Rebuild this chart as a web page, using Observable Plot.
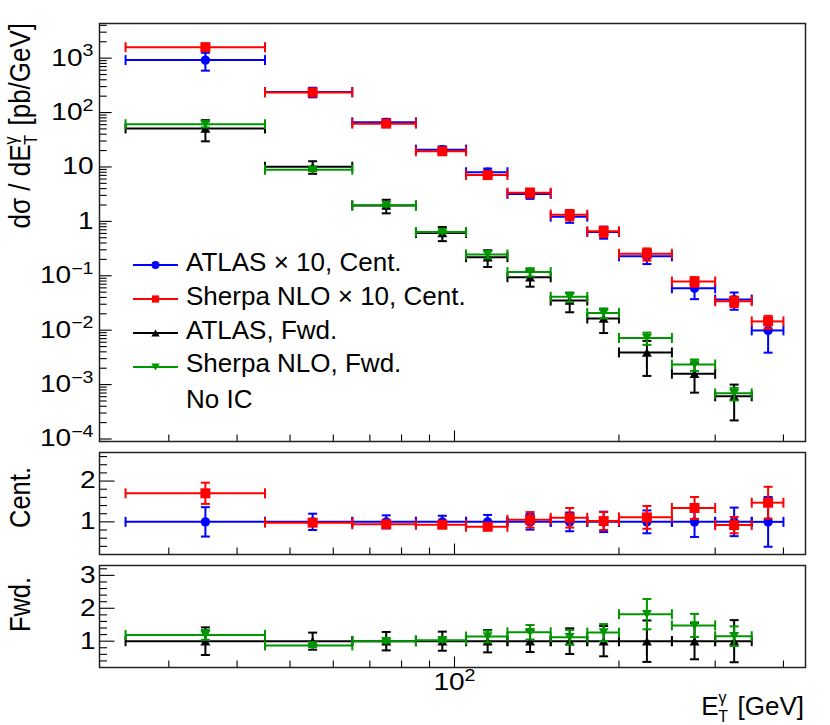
<!DOCTYPE html>
<html><head><meta charset="utf-8">
<script src="https://cdn.jsdelivr.net/npm/d3@7"></script>
<script src="https://cdn.jsdelivr.net/npm/@observablehq/plot@0.6"></script>
<style>
body{margin:0;background:#fff;}
#chart{position:relative;width:830px;height:725px;font-family:"Liberation Sans",Arial,Helvetica,sans-serif;}
#chart svg{position:absolute;left:0;overflow:visible;}
</style></head><body><div id="chart"></div>
<script>
// ---- data ----
const binLo = [25,45,65,85,105,125,150,175,200,250,300,350];
const binHi = [45,65,85,105,125,150,175,200,250,300,350,400];
const atlasCent    = [920,238,66,20.8,8.0,3.2,1.22,0.64,0.228,0.059,0.0365,0.0099];
const atlasCentErr = [0.36,0.20,0.16,0.15,0.17,0.19,0.23,0.25,0.28,0.37,0.35,0.61];
const sherpaCent   = [1590,234,62.5,19.4,7.1,3.37,1.33,0.655,0.254,0.0785,0.0341,0.0145];
const ratioCent    = [1.70,0.98,0.94,0.93,0.88,1.05,1.10,1.02,1.11,1.34,0.92,1.47];
const ratioCentErr = [0.26,0.06,0.06,0.06,0.06,0.19,0.24,0.22,0.28,0.27,0.20,0.39];
const atlasFwd     = [51,10.1,1.95,0.61,0.22,0.094,0.035,0.0164,0.0039,0.00158,0.00061];
const atlasFwdErr  = [0.42,0.26,0.28,0.29,0.34,0.33,0.39,0.46,0.63,0.55,0.64];
const sherpaFwd    = [61,8.9,1.97,0.636,0.247,0.117,0.041,0.0208,0.0072,0.00234,0.00069];
const ratioFwd     = [1.19,0.87,1.00,1.03,1.14,1.27,1.12,1.26,1.82,1.48,1.15];
const ratioFwdErr  = [0.15,0.05,0.05,0.05,0.18,0.22,0.22,0.26,0.46,0.35,0.30];
const xMajorTicks = [100];
const xMinorTicks = [30,40,50,60,70,80,90,200,300,400];
const mainYTicks  = [1e-4,1e-3,1e-2,1e-1,1,10,100,1000];
const mainYLabels = ["10^{-4}","10^{-3}","10^{-2}","10^{-1}","1","10","10^{2}","10^{3}"];
const centYTicks = [1,2];
const fwdYTicks  = [1,2,3];
const legendLabels = ["ATLAS \u00d7 10, Cent.","Sherpa NLO \u00d7 10, Cent.","ATLAS, Fwd.","Sherpa NLO, Fwd."];
const noteText = "No IC";

// ---- styling ----
const FONT = '"Liberation Sans", Arial, Helvetica, sans-serif';
const COL = {blue:"#0000ff", red:"#ff0000", black:"#000000", green:"#009600"};
const XDOM = [22.4, 439];
const ML = 99, MR = 25, FW = 830 - ML - MR;
const LABEL_K = 1.22;
const TITLE_K = 1.15;

function sym(draw){return {draw(c,s){const r=Math.sqrt(s/Math.PI); draw(c,r);}};}
const vbar = sym((c,r)=>{c.moveTo(0,-r);c.lineTo(0,r);});
const hbar = sym((c,r)=>{c.moveTo(-r,0);c.lineTo(r,0);});
const square = sym((c,r)=>{c.rect(-r,-r,2*r,2*r);});
const circle = sym((c,r)=>{c.moveTo(r,0);c.arc(0,0,r,0,2*Math.PI);c.closePath();});
const triUp = sym((c,r)=>{const h=r*0.85;c.moveTo(0,-h);c.lineTo(r,h);c.lineTo(-r,h);c.closePath();});
const triDown = sym((c,r)=>{const h=r*0.85;c.moveTo(-r,-h);c.lineTo(r,-h);c.lineTo(0,h);c.closePath();});

function relRows(vals, rel){
  return vals.map((v,i)=>({lo:binLo[i],hi:binHi[i],x:(binLo[i]+binHi[i])/2,v,y1:v*(1-rel[i]),y2:v*(1+rel[i])}));
}
function absRows(vals, err){
  return vals.map((v,i)=>({lo:binLo[i],hi:binHi[i],x:(binLo[i]+binHi[i])/2,v,y1:v-err[i],y2:v+err[i]}));
}
function seriesMarks(data, color, marker, mr){
  const s = {stroke:color, strokeWidth:2, fill:"none"};
  return [
    Plot.ruleY(data,{y:"v",x1:"lo",x2:"hi",stroke:color,strokeWidth:2}),
    Plot.ruleX(data,{x:"x",y1:"y1",y2:"y2",stroke:color,strokeWidth:2}),
    Plot.dot(data,{x:"lo",y:"v",symbol:vbar,r:5,...s}),
    Plot.dot(data,{x:"hi",y:"v",symbol:vbar,r:5,...s}),
    Plot.dot(data,{x:"x",y:"y1",symbol:hbar,r:4.5,...s}),
    Plot.dot(data,{x:"x",y:"y2",symbol:hbar,r:4.5,...s}),
    Plot.dot(data,{x:"x",y:"v",symbol:marker,r:mr,fill:color,stroke:"none"})
  ];
}
function tickMarks(FH, yMajor, yMinor, majLen, minLen){
  return [
    Plot.tickY(yMinor,{y:d=>d,insetRight:FW-minLen,stroke:"#000",strokeWidth:1.1}),
    Plot.tickY(yMajor,{y:d=>d,insetRight:FW-majLen,stroke:"#000",strokeWidth:1.1}),
    Plot.tickX(xMinorTicks,{x:d=>d,insetTop:FH-6.5,stroke:"#000",strokeWidth:1.1}),
    Plot.tickX(xMajorTicks,{x:d=>d,insetTop:FH-10.5,stroke:"#000",strokeWidth:1.1})
  ];
}
const baseStyle = {fontFamily:FONT, fontSize:"23px", color:"#000", background:"transparent", overflow:"visible"};

// main panel
const centA = relRows(atlasCent, atlasCentErr);
const centS = relRows(sherpaCent, ratioCentErr.map((e,i)=>e/ratioCent[i]));
const fwdA  = relRows(atlasFwd, atlasFwdErr);
const fwdS  = relRows(sherpaFwd, ratioFwdErr.map((e,i)=>e/ratioFwd[i]));
const mainDom = [9.0e-5, 4330];
const mainMinor = d3.scaleLog().domain(mainDom).ticks().filter(t=>t>=mainDom[0]&&t<=mainDom[1]&&!mainYTicks.some(m=>Math.abs(m-t)/m<1e-6));

const mainPlot = Plot.plot({
  width:830, height:446, marginLeft:ML, marginRight:MR, marginTop:23, marginBottom:5,
  x:{type:"log", domain:XDOM, axis:null},
  y:{type:"log", domain:mainDom},
  style:baseStyle,
  marks:[
    ...tickMarks(418, mainYTicks, mainMinor, 12.7, 7.7),
    Plot.axisY({ticks:mainYTicks, tickSize:0, tickPadding:6, fontSize:23, tickFormat:d=>mainYLabels[mainYTicks.findIndex(m=>Math.abs(m-d)/m<1e-6)]}),
    ...seriesMarks(centA, COL.blue, circle, 4.7),
    ...seriesMarks(centS, COL.red, square, 5),
    ...seriesMarks(fwdA, COL.black, triUp, 5),
    ...seriesMarks(fwdS, COL.green, triDown, 5),
    Plot.frame({stroke:"#222", strokeWidth:1.5})
  ]
});

// Cent ratio panel
const centMinor = d3.range(2,14).map(k=>+(k*0.2).toFixed(1)).filter(t=>!centYTicks.includes(t));
const centPlot = Plot.plot({
  width:830, height:113, marginLeft:ML, marginRight:MR, marginTop:6, marginBottom:5,
  x:{type:"log", domain:XDOM, axis:null},
  y:{domain:[0.2,2.7]},
  style:baseStyle,
  marks:[
    ...tickMarks(102, centYTicks, centMinor, 15.5, 8),
    Plot.axisY({ticks:centYTicks, tickSize:0, tickPadding:4, fontSize:23, tickFormat:d=>String(d)}),
    ...seriesMarks(absRows(atlasCent.map(v=>v/v), atlasCentErr), COL.blue, circle, 4.7),
    ...seriesMarks(absRows(ratioCent, ratioCentErr), COL.red, square, 5),
    Plot.frame({stroke:"#222", strokeWidth:1.5})
  ]
});

// Fwd ratio panel
const fwdMinor = d3.range(2,17).map(k=>+(k*0.2).toFixed(1)).filter(t=>!fwdYTicks.includes(t));
const fwdPlot = Plot.plot({
  width:830, height:166, marginLeft:ML, marginRight:MR, marginTop:6, marginBottom:58,
  x:{type:"log", domain:XDOM},
  y:{domain:[0.2,3.3]},
  style:baseStyle,
  marks:[
    ...tickMarks(102, fwdYTicks, fwdMinor, 15.5, 8),
    Plot.axisY({ticks:fwdYTicks, tickSize:0, tickPadding:4, fontSize:23, tickFormat:d=>String(d)}),
    Plot.axisX({ticks:xMajorTicks, tickSize:0, tickPadding:6, fontSize:23, tickFormat:()=>"10^{2}"}),
    ...seriesMarks(absRows(atlasFwd.map(v=>v/v), atlasFwdErr), COL.black, triUp, 5),
    ...seriesMarks(absRows(ratioFwd, ratioFwdErr), COL.green, triDown, 5),
    Plot.frame({stroke:"#222", strokeWidth:1.5})
  ]
});

const chart = document.getElementById("chart");
[[mainPlot,0],[centPlot,446],[fwdPlot,559]].forEach(([p,top])=>{p.style.top=top+"px"; chart.appendChild(p);});

// rich tick labels (superscripts) + horizontal stretch like the reference
function fixLabels(svg){
  d3.select(svg).selectAll('g[aria-label$="tick label"] text').each(function(){
    const s = this.textContent;
    const m = s.match(/^(.*)\^\{(.*)\}$/);
    if (m){
      this.textContent = "";
      const t = d3.select(this);
      t.append("tspan").text(m[1]);
      t.append("tspan").attr("dy","-0.57em").attr("font-size","0.7em").text(m[2].replace("-","\u2212"));
    }
    const tr = this.getAttribute("transform")||"";
    let x = this.getAttribute("x"), y = this.getAttribute("y");
    let dx = 0, dy = 0;
    if (x!=null){ if (/em$/.test(x)) this.setAttribute("dx", x); else dx = +x||0; this.removeAttribute("x"); }
    if (y!=null){ if (/em$/.test(y)) this.setAttribute("dy", y); else dy = +y||0; this.removeAttribute("y"); }
    const extra = (dx||dy) ? ` translate(${dx},${dy})` : "";
    this.setAttribute("transform", `${tr}${extra} scale(${LABEL_K},1)`);
  });
}
[mainPlot,centPlot,fwdPlot].forEach(fixLabels);

// stacked sub/superscript helper: parts = [text, {sup, sub}, text]
function richText(sel, parts, size, supRise, subDrop){
  const t = sel.append("text").attr("font-family",FONT).attr("font-size",size).attr("fill","#000");
  parts.forEach(p=>{
    if (typeof p === "string"){ t.append("tspan").text(p); }
    else {
      const ss = size*0.62;
      t.append("tspan").attr("font-size",ss).attr("dy",-supRise).text(p.sup);
      t.append("tspan").attr("font-size",ss).attr("dx",-ss*0.52).attr("dy",supRise+subDrop).text(p.sub);
      t.append("tspan").attr("dy",-subDrop).text("\u200a");
    }
  });
  return t;
}

// y-axis title
const ms = d3.select(mainPlot);
richText(ms.append("g").attr("transform",`translate(30,23) scale(${TITLE_K},1) rotate(-90)`),
  ["d\u03c3 / dE",{sup:"\u03b3",sub:"T"}," [pb/GeV]"], 26, 11, 6.5).attr("text-anchor","end");

// legend
const legItems = [
  {label:legendLabels[0], color:COL.blue, sym:circle, r:4},
  {label:legendLabels[1], color:COL.red, sym:square, r:3.6},
  {label:legendLabels[2], color:COL.black, sym:triUp, r:4.2},
  {label:legendLabels[3], color:COL.green, sym:triDown, r:4.2}
];
const legY = [265,299,333,367];
const legBase = [271,305,338.5,372];
const lg = ms.append("g").attr("text-anchor","start");
legItems.forEach((it,i)=>{
  lg.append("line").attr("x1",133).attr("x2",178).attr("y1",legY[i]).attr("y2",legY[i]).attr("stroke",it.color).attr("stroke-width",2);
  const p = d3.path(); it.sym.draw(p, it.r*it.r*Math.PI);
  lg.append("path").attr("d",p.toString()).attr("transform",`translate(155.5,${legY[i]})`).attr("fill",it.color);
  lg.append("text").attr("x",186).attr("y",legBase[i]).attr("text-anchor","start").attr("font-family",FONT).attr("font-size",26).text(it.label);
});
lg.append("text").attr("x",186).attr("y",407.5).attr("text-anchor","start").attr("font-family",FONT).attr("font-size",26).text(noteText);

// ratio titles
d3.select(centPlot).append("text").attr("transform",`translate(30,51.5) scale(${TITLE_K},1) rotate(-90)`).attr("text-anchor","middle")
  .attr("font-family",FONT).attr("font-size",25.5).text("Cent.");
d3.select(fwdPlot).append("text").attr("transform",`translate(30,45.5) scale(${TITLE_K},1) rotate(-90)`).attr("text-anchor","middle")
  .attr("font-family",FONT).attr("font-size",25.5).text("Fwd.");

// x-axis title
richText(d3.select(fwdPlot).append("g").attr("transform","translate(804,156)"),
  ["E",{sup:"\u03b3",sub:"T"}," [GeV]"], 26, 12, 6.5).attr("text-anchor","end");
</script></body></html>
